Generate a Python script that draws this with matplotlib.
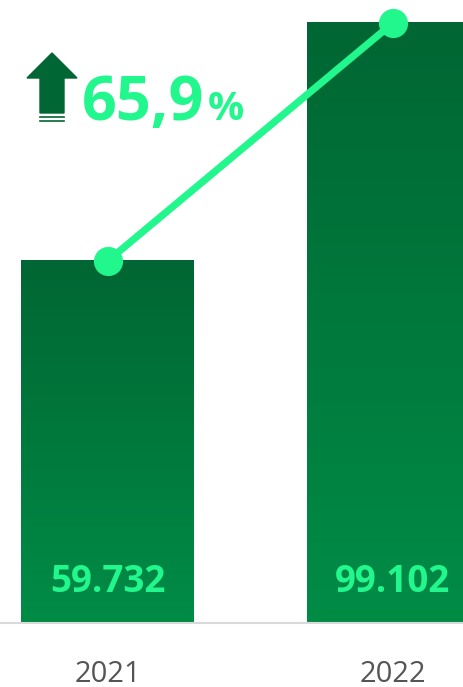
import matplotlib
matplotlib.use("Agg")
import matplotlib.pyplot as plt
import numpy as np
from matplotlib.patches import Polygon

years = ["2021", "2022"]
values = [59.732, 99.102]
value_labels = ["59.732", "99.102"]
growth_label = "65,9"

W, H = 463, 687
fig = plt.figure(figsize=(W/100, H/100), dpi=100)
base_px = 622.5
ax = fig.add_axes([0, (H-base_px)/H, 1, base_px/H])
ppc = 285.5
ax.set_xlim(-107.5/ppc, 1 + (W-393)/ppc)
ax.set_ylim(0, base_px/6.05)
ax.axis("off")

top_c = np.array([0x00, 0x66, 0x33])/255
bot_c = np.array([0x00, 0x8c, 0x46])/255
grad = np.linspace(0, 1, 256)[:, None]
img = top_c[None, None, :]*(1-grad[..., None]) + bot_c[None, None, :]*grad[..., None]

bw = 173/ppc
x = np.arange(len(years))
for i, v in enumerate(values):
    ax.imshow(img, extent=[x[i]-bw/2, x[i]+bw/2, 0, v], aspect="auto",
              interpolation="bicubic", zorder=1)
    ax.text(x[i], 30.5/6.05, value_labels[i], ha="center", va="baseline",
            fontsize=26.5, fontweight="bold", color="#22f78d", family="Open Sans", zorder=3)

ax.plot(x, values, color="#22f78d", lw=5.2, marker="o", markersize=20,
        solid_capstyle="round", zorder=4, clip_on=False)

# baseline
fig.add_artist(plt.Line2D([0, 1], [(H-623)/H]*2, color="#d9d9d9", lw=1.5))

for i, y in enumerate(years):
    fig.text((107.5 + i*ppc)/W, (H-682)/H, y, ha="center", va="baseline",
             fontsize=21, color="#555555", family="Open Sans")

# arrow icon
def px(xp, yp):
    return (xp/W, (H-yp)/H)
arrow_col = "#006633"
pts = [px(27, 78), px(52, 53), px(77, 78), px(64, 78), px(64, 113), px(40, 113), px(40, 78)]
fig.add_artist(Polygon(pts, closed=True, transform=fig.transFigure, color=arrow_col))
for yy in (116.5, 120.5):
    fig.add_artist(plt.Line2D([40/W, 64/W], [(H-yy)/H]*2, color=arrow_col, lw=1.2))

fig.text(82/W, (H-120)/H, growth_label, ha="left", va="baseline", fontsize=44,
         fontweight="bold", color="#22f78d", family="Open Sans")
fig.text(208/W, (H-120)/H, "%", ha="left", va="baseline", fontsize=29,
         fontweight="bold", color="#22f78d", family="Open Sans")

fig.savefig("out.png", dpi=100)
